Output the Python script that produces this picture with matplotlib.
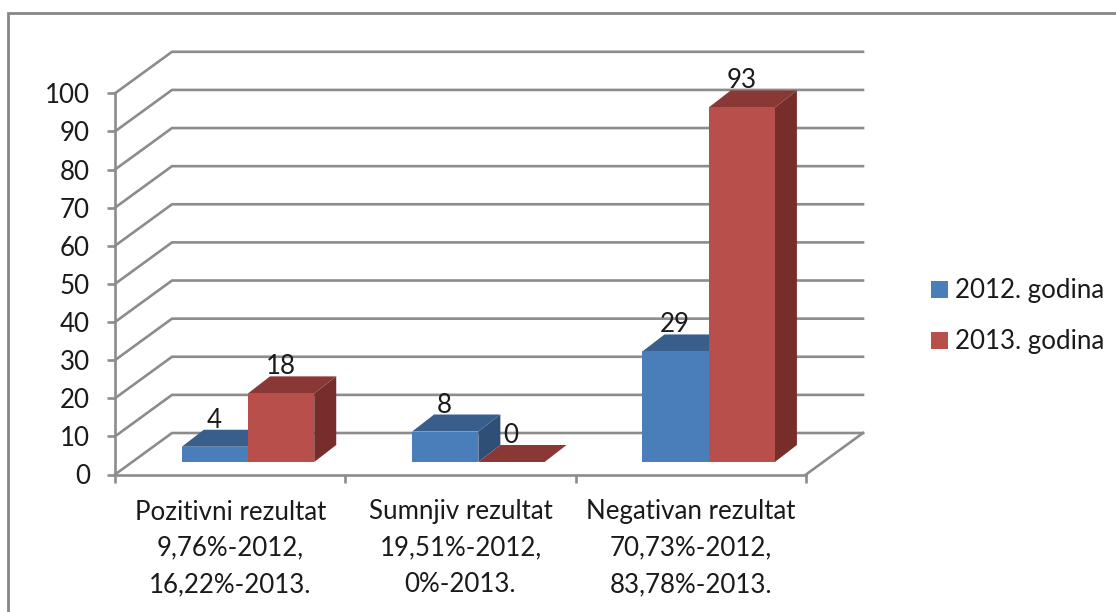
import matplotlib
matplotlib.use("Agg")
import matplotlib.pyplot as plt
from matplotlib.lines import Line2D
from matplotlib.patches import Rectangle

plt.rcParams['font.family'] = ['Lato', 'DejaVu Sans']

categories = ["Pozitivni rezultat\n9,76%-2012,\n16,22%-2013.",
              "Sumnjiv rezultat\n19,51%-2012,\n0%-2013.",
              "Negativan rezultat\n70,73%-2012,\n83,78%-2013."]
series_names = ["2012. godina", "2013. godina"]
values_2012 = [4, 8, 29]
values_2013 = [18, 0, 93]
y_ticks = list(range(0, 101, 10))

W, H = 1116, 612
PX_X0, PX_X1 = 115, 806
PX_Y0, PX_Y100 = 474.5, 93.3
PX_CAT = (PX_X1 - PX_X0) / 3
PX_VAL = (PX_Y0 - PX_Y100) / 100

GRID = '#8c8c8c'
TXT = '#1a1a1a'
FS = 18.6
LW = 1.9
colors = {
    0: dict(front='#4a7ebb', top='#385f8c', side='#2f4f76'),
    1: dict(front='#b94f4b', top='#8a3835', side='#772e2b'),
}

fig = plt.figure(figsize=(W / 100, H / 100), dpi=100, facecolor='white')
ax = fig.add_axes([PX_X0 / W, (H - PX_Y0) / H, (PX_X1 - PX_X0) / W, (PX_Y0 - PX_Y100) / H])
ax.set_xlim(0, 3)
ax.set_ylim(0, 100)
ax.patch.set_visible(False)

def dxp(px):
    return px / PX_CAT

def dyp(px):
    return px / PX_VAL

# outer chart border (open at the right and bottom edges of the image)
fig.add_artist(Line2D([8.3 / W, 8.3 / W, 1], [0, 1 - 12.8 / H, 1 - 12.8 / H],
                      color='#868686', lw=2.0, solid_joinstyle='miter'))

# walls: grid lines
BACK_X, BACK_Y = dxp(57), dyp(41.5)
for v in y_ticks:
    ax.plot([0, BACK_X, 3 + BACK_X], [v, v + BACK_Y, v + BACK_Y],
            color=GRID, lw=LW, clip_on=False, zorder=1, solid_joinstyle='miter')
ax.plot([3, 3 + BACK_X], [0, BACK_Y], color=GRID, lw=LW, clip_on=False, zorder=1)

# axes
for s in ('top', 'right'):
    ax.spines[s].set_visible(False)
for s in ('left', 'bottom'):
    ax.spines[s].set_color(GRID)
    ax.spines[s].set_linewidth(LW)
    ax.spines[s].set_zorder(2)
ax.set_yticks(y_ticks)
ax.set_xticks([0, 1, 2, 3])
ax.set_xticklabels([])
ax.tick_params(axis='both', which='major', length=6, width=LW, color=GRID)
ax.tick_params(axis='y', labelsize=FS, labelcolor=TXT, pad=12)
ax.set_xticks([0.5, 1.5, 2.5], minor=True)
ax.set_xticklabels(categories, minor=True, fontsize=FS, color=TXT, linespacing=1.56, ha='center', va='top')
ax.tick_params(axis='x', which='minor', length=0, pad=18)

# bars
BAR_START, BAR_W = 0.29, 0.2875
BASE = dyp(12.5)
DX, DY = dxp(22), dyp(17)
for s_i, vals in enumerate((values_2012, values_2013)):
    c = colors[s_i]
    for i, v in enumerate(vals):
        x0 = i + BAR_START + s_i * BAR_W
        x1 = x0 + BAR_W
        y0, y1 = BASE, BASE + v
        z = 3 + i * 3 + s_i
        ax.fill([x1, x1 + DX, x1 + DX, x1], [y0, y0 + DY, y1 + DY, y1],
                color=c['side'], lw=0, clip_on=False, zorder=z)
        ax.fill([x0, x0 + DX, x1 + DX, x1], [y1, y1 + DY, y1 + DY, y1],
                color=c['top'], lw=0, clip_on=False, zorder=z)
        ax.fill([x0, x1, x1, x0], [y0, y0, y1, y1],
                color=c['front'], lw=0, clip_on=False, zorder=z)
        ax.text((x0 + x1) / 2 - dxp(0.5), y1 + dyp(26.5), str(v), ha='center', va='center',
                fontsize=FS, color=TXT, clip_on=False, zorder=30)

# legend
for name, yc, key in zip(series_names, (289.5, 340.5), (0, 1)):
    fig.add_artist(Rectangle((931 / W, 1 - (yc + 8.5) / H), 17 / W, 17 / H,
                             transform=fig.transFigure, facecolor=colors[key]['front'], edgecolor='none'))
    fig.text(955 / W, 1 - (yc + 1) / H, name, ha='left', va='center', fontsize=FS, color=TXT)

fig.savefig('out.png', dpi=100, facecolor='white')
